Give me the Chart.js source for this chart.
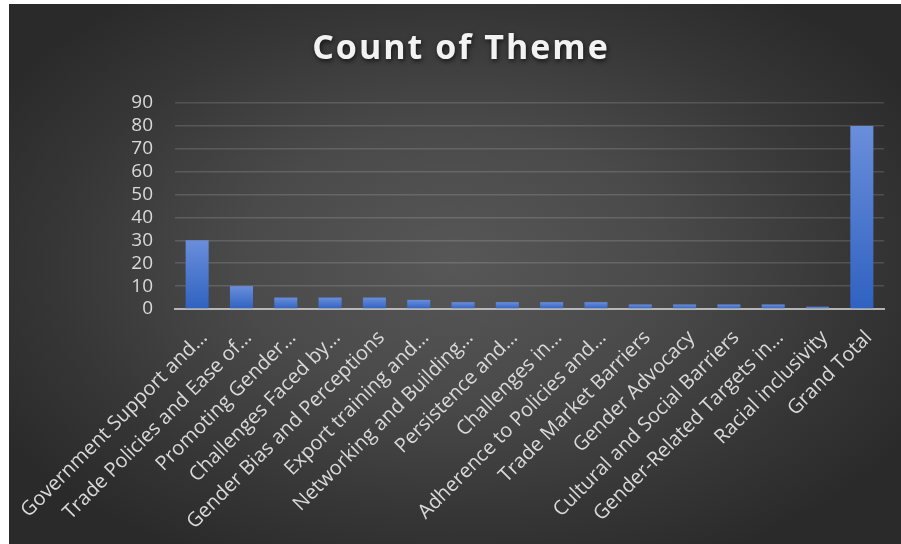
<!DOCTYPE html>
<html>
<head>
<meta charset="utf-8">
<script src="https://cdn.jsdelivr.net/npm/chart.js@4.4.1/dist/chart.umd.min.js"></script>
<style>
  html, body { margin: 0; padding: 0; background: #ffffff; }
  #wrap {
    position: absolute; left: 9px; top: 4px; width: 892px; height: 540px;
    background: radial-gradient(ellipse 60% 62% at 50% 48%, #575757 0%, #4a4a4a 40%, #363636 75%, #2a2a2a 100%);
  }
  #themeChart { position: absolute; left: -9px; top: -4px; }
</style>
</head>
<body>
<div id="wrap">
  <canvas id="themeChart" width="901" height="544"></canvas>
</div>
<script>
// Contagem por tema
const themes = [
    'Government Support and…',
    'Trade Policies and Ease of…',
    'Promoting Gender…',
    'Challenges Faced by…',
    'Gender Bias and Perceptions',
    'Export training and…',
    'Networking and Building…',
    'Persistence and…',
    'Challenges in…',
    'Adherence to Policies and…',
    'Trade Market Barriers',
    'Gender Advocacy',
    'Cultural and Social Barriers',
    'Gender-Related Targets in…',
    'Racial inclusivity',
    'Grand Total'
];
const themeCounts = [30, 10, 5, 5, 5, 4, 3, 3, 3, 3, 2, 2, 2, 2, 1, 80];
const yMax = 90;
const yStep = 10;
const chartTitle = 'Count of Theme';

const fontFamily = '"Open Sans", "Liberation Sans", sans-serif';

// gradiente vertical em cada barra
function barGradient(context) {
    const chart = context.chart;
    if (!chart.chartArea || context.type !== 'data') return '#4472c4';
    const yScale = chart.scales.y;
    const top = yScale.getPixelForValue(context.raw);
    const bottom = yScale.getPixelForValue(0);
    const g = chart.ctx.createLinearGradient(0, top, 0, bottom);
    g.addColorStop(0, '#6a8edb');
    g.addColorStop(1, '#2f62c1');
    return g;
}

// título com sombra
const titlePlugin = {
    id: 'shadowTitle',
    afterDraw(chart) {
        const ctx = chart.ctx;
        ctx.save();
        ctx.font = 'bold 34px ' + fontFamily;
        ctx.letterSpacing = '2px';
        ctx.textAlign = 'center';
        ctx.textBaseline = 'middle';
        ctx.shadowColor = 'rgba(0,0,0,0.7)';
        ctx.shadowBlur = 5;
        ctx.shadowOffsetX = 1;
        ctx.shadowOffsetY = 2;
        ctx.fillStyle = '#f2f2f2';
        ctx.fillText(chartTitle, 461, 49);
        ctx.restore();
    }
};

const themeCtx = document.getElementById('themeChart').getContext('2d');
const themeChart = new Chart(themeCtx, {
    type: 'bar',
    data: {
        labels: themes,
        datasets: [{
            label: 'Count of Theme',
            data: themeCounts,
            backgroundColor: barGradient,
            borderWidth: 0,
            categoryPercentage: 1,
            barPercentage: 0.52
        }]
    },
    options: {
        responsive: false,
        animation: false,
        layout: {
            padding: { top: 103, right: 17, bottom: 0, left: 0 }
        },
        plugins: {
            legend: { display: false },
            title: { display: false },
            tooltip: { enabled: false }
        },
        scales: {
            x: {
                z: 1,
                afterFit(scale) {
                    scale.height = 235;
                    scale.paddingLeft = 0;
                    scale.paddingRight = 0;
                },
                grid: { display: false, drawTicks: false },
                border: { display: true, color: 'rgba(200,200,200,0.85)', width: 2 },
                ticks: {
                    color: '#d9d9d9',
                    font: { family: fontFamily, size: 20 },
                    maxRotation: 45,
                    minRotation: 45,
                    autoSkip: false,
                    padding: 17,
                    labelOffset: 7
                }
            },
            y: {
                min: 0,
                max: yMax,
                afterFit(scale) { scale.width = 175; },
                grid: { color: 'rgba(255,255,255,0.14)', lineWidth: 1.5, drawTicks: false },
                border: { display: false },
                ticks: {
                    stepSize: yStep,
                    autoSkip: false,
                    color: '#d9d9d9',
                    font: { family: fontFamily, size: 19 },
                    padding: 22
                }
            }
        }
    },
    plugins: [titlePlugin]
});
</script>
</body>
</html>
